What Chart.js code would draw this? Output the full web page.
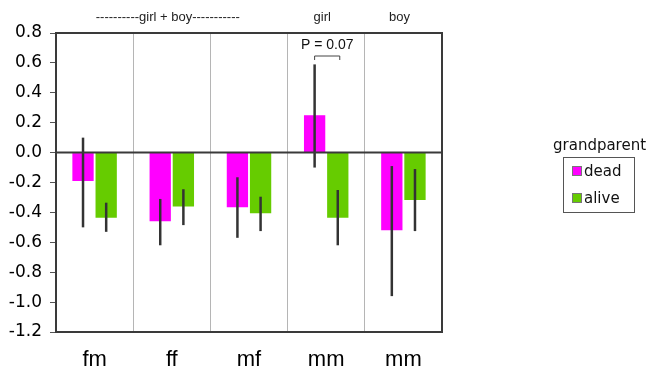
<!DOCTYPE html>
<html><head><meta charset="utf-8">
<script src="https://cdn.jsdelivr.net/npm/chart.js@4"></script>
<style>html,body{margin:0;padding:0;background:#fff}#wrap{width:649px;height:377px;position:relative}</style>
</head><body><div id="wrap"><canvas id="c" width="649" height="377"></canvas></div>
<script>
const categories = ['fm', 'ff', 'mf', 'mm', 'mm'];
const seriesNames = ['dead', 'alive'];
const dead = [-0.19, -0.46, -0.365, 0.25, -0.52];
const alive = [-0.435, -0.36, -0.405, -0.435, -0.317];
const deadLow = [-0.50, -0.62, -0.57, -0.10, -0.96];
const deadHigh = [0.10, -0.31, -0.165, 0.59, -0.09];
const aliveLow = [-0.53, -0.485, -0.525, -0.62, -0.525];
const aliveHigh = [-0.335, -0.245, -0.295, -0.25, -0.11];
const yTicks = [0.8, 0.6, 0.4, 0.2, 0.0, -0.2, -0.4, -0.6, -0.8, -1.0, -1.2];
const groupLabels = ['----------girl + boy-----------', 'girl', 'boy'];
const groupLabelIndex = [1, 3, 4];
const legendTitle = 'grandparent';
const pLabel = 'P = 0.07';
const pIndex = 3;

const MAGENTA = '#ff00ff', GREEN = '#66cc00', DARK = '#333333';
const FONT = '"DejaVu Sans", Arial, sans-serif';
const FONT2 = '"Liberation Sans", Arial, sans-serif';

const overlay = {
  id: 'overlay',
  afterDatasetsDraw(chart) {
    const ctx = chart.ctx, y = chart.scales.y, x = chart.scales.x, a = chart.chartArea;
    const lows = [deadLow, aliveLow], highs = [deadHigh, aliveHigh];
    ctx.save();
    ctx.strokeStyle = DARK; ctx.lineWidth = 2.5;
    [0, 1].forEach(d => {
      chart.getDatasetMeta(d).data.forEach((bar, i) => {
        ctx.beginPath();
        ctx.moveTo(bar.x, y.getPixelForValue(lows[d][i]));
        ctx.lineTo(bar.x, y.getPixelForValue(highs[d][i]));
        ctx.stroke();
      });
    });
    ctx.lineWidth = 2; ctx.strokeStyle = '#3a3a3a';
    const zy = y.getPixelForValue(0);
    ctx.beginPath(); ctx.moveTo(a.left, zy); ctx.lineTo(a.right, zy); ctx.stroke();
    ctx.strokeRect(a.left, a.top, a.right - a.left, a.bottom - a.top);
    const b0 = chart.getDatasetMeta(0).data[pIndex], b1 = chart.getDatasetMeta(1).data[pIndex];
    const by = a.top + 23;
    ctx.lineWidth = 1; ctx.strokeStyle = '#444';
    ctx.beginPath();
    ctx.moveTo(b0.x, by + 4); ctx.lineTo(b0.x, by); ctx.lineTo(b1.x + 2, by); ctx.lineTo(b1.x + 2, by + 4);
    ctx.stroke();
    ctx.fillStyle = '#111'; ctx.font = '14px ' + FONT2; ctx.textAlign = 'center'; ctx.textBaseline = 'middle';
    ctx.fillText(pLabel, (b0.x + b1.x) / 2 + 1, a.top + 12);
    ctx.font = '13px ' + FONT2; ctx.fillStyle = '#222';
    groupLabels.forEach((t, k) => {
      ctx.fillText(t, x.getPixelForValue(groupLabelIndex[k]) - 4, 17);
    });
    ctx.textAlign = 'left';
    ctx.font = '15px ' + FONT; ctx.fillStyle = '#111';
    ctx.fillText(legendTitle, 553, 146);
    ctx.strokeStyle = '#555'; ctx.lineWidth = 1;
    ctx.strokeRect(563.5, 157.5, 71, 55);
    const cols = [MAGENTA, GREEN];
    seriesNames.forEach((n, k) => {
      const ly = 171 + k * 27;
      ctx.fillStyle = cols[k];
      ctx.fillRect(572, ly - 5, 10, 10);
      ctx.strokeStyle = '#777'; ctx.strokeRect(572.5, ly - 4.5, 9, 9);
      ctx.fillStyle = '#111'; ctx.font = '15px ' + FONT;
      ctx.fillText(n, 584, ly + 1);
    });
    ctx.restore();
  }
};

new Chart(document.getElementById('c'), {
  type: 'bar',
  data: {
    labels: categories,
    datasets: [
      { label: seriesNames[0], data: dead, backgroundColor: MAGENTA, categoryPercentage: 0.6, barPercentage: 0.92 },
      { label: seriesNames[1], data: alive, backgroundColor: GREEN, categoryPercentage: 0.6, barPercentage: 0.92 }
    ]
  },
  plugins: [overlay],
  options: {
    responsive: false,
    animation: false,
    events: [],
    layout: { padding: { top: 33, right: 207, left: 0, bottom: 0 } },
    plugins: { legend: { display: false }, tooltip: { enabled: false } },
    scales: {
      x: {
        offset: true,
        grid: { offset: true, color: '#b5b5b5', lineWidth: 1, drawTicks: false },
        border: { display: false },
        ticks: { color: '#000', font: { family: FONT2, size: 22 }, padding: 15 },
        afterFit(s) { s.height = 45; }
      },
      y: {
        min: -1.2, max: 0.8,
        afterBuildTicks(s) { s.ticks = yTicks.map(v => ({ value: v })); },
        grid: { color: 'rgba(0,0,0,0)', drawTicks: true, tickLength: 6, tickColor: '#555', tickWidth: 1 },
        border: { display: false },
        ticks: { color: '#000', font: { family: FONT, size: 17 }, padding: 8, callback: v => (Math.abs(v) < 1e-9 ? 0 : v).toFixed(1) },
        afterFit(s) { s.width = 56; }
      }
    }
  }
});
</script></body></html>
